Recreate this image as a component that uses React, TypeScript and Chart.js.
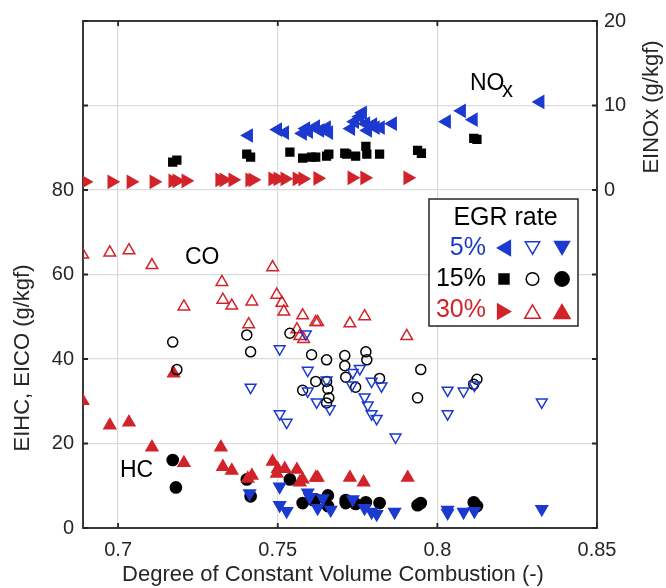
import React, { useEffect, useRef } from 'react';
import { Chart, registerables } from 'chart.js';
import { drawPoint } from 'chart.js/helpers';

Chart.register(...registerables);

const BLUE = '#1c3acf';
const RED = '#d2232a';
const BLACK = '#000000';
const AXIS = '#262626';
const GRID = '#dcdcdc';
const FONT = '"Liberation Sans", Arial, Helvetica, sans-serif';

const xTicks = [0.7, 0.75, 0.8, 0.85];
const yLeftTicks = [0, 20, 40, 60, 80, 100, 120];
const yLeftLabels = [0, 20, 40, 60, 80];
const yRightTicks = [-40, -30, -20, -10, 0, 10, 20];
const yRightLabels = [0, 10, 20];

// EINOx (right axis), [DCVC, g/kgf]
const noxEgr5: [number, number][] = [
  [0.7409, 6.45], [0.75, 7.15], [0.7522, 6.8], [0.7578, 6.69], [0.7588, 7.27], [0.7597, 6.92],
  [0.7619, 7.5], [0.7632, 7.04], [0.7653, 7.39], [0.766, 6.8], [0.7729, 7.27], [0.7741, 8.09],
  [0.7757, 8.67], [0.7766, 9.14], [0.7776, 7.85], [0.7782, 7.04], [0.7798, 7.74], [0.7806, 7.39],
  [0.7822, 7.39], [0.786, 7.85], [0.8029, 8.09], [0.8076, 9.37], [0.8113, 8.32], [0.8322, 10.42],
];
const noxEgr15: [number, number][] = [
  [0.7171, 3.3], [0.7184, 3.54], [0.7403, 4.24], [0.7415, 3.89], [0.7538, 4.47], [0.7578, 3.77],
  [0.7606, 3.89], [0.7619, 3.89], [0.7653, 4.0], [0.766, 4.24], [0.771, 4.35], [0.7716, 4.24],
  [0.7744, 4.0], [0.7776, 5.17], [0.7779, 4.24], [0.7819, 4.24], [0.7938, 4.7], [0.795, 4.35],
  [0.8114, 6.1], [0.8124, 5.99],
];
const noxEgr30: [number, number][] = [
  [0.6896, 0.97], [0.698, 0.97], [0.704, 0.97], [0.7112, 0.97], [0.7171, 1.09], [0.7184, 1.09],
  [0.7212, 1.09], [0.7318, 1.2], [0.7331, 1.2], [0.7359, 1.2], [0.7412, 1.2], [0.7422, 1.2],
  [0.7484, 1.32], [0.75, 1.32], [0.7522, 1.32], [0.756, 1.32], [0.7578, 1.32], [0.7625, 1.38],
  [0.7732, 1.44], [0.7772, 1.44], [0.7907, 1.44],
];

// EICO (left axis)
const coEgr5: [number, number][] = [
  [0.7415, 33.3], [0.7506, 42.4], [0.7588, 45.9], [0.7594, 37.3], [0.7594, 32.4], [0.7622, 29.8],
  [0.7653, 35.0], [0.7663, 28.2], [0.7506, 27.0], [0.7528, 25.0], [0.7732, 33.8], [0.7735, 36.8],
  [0.7757, 37.7], [0.7772, 31.0], [0.7782, 29.1], [0.7794, 34.7], [0.7794, 27.0], [0.781, 25.9],
  [0.7825, 33.6], [0.7869, 21.5], [0.8032, 32.6], [0.8032, 27.0], [0.8082, 32.4], [0.8116, 33.8],
  [0.8327, 29.8],
];
const coEgr15: [number, number][] = [
  [0.7171, 44.0], [0.7184, 37.5], [0.7403, 45.7], [0.7415, 41.7], [0.7538, 46.1], [0.7578, 32.6],
  [0.7606, 41.0], [0.7619, 34.7], [0.7653, 39.8], [0.7653, 34.7], [0.7657, 32.9], [0.766, 30.8],
  [0.7653, 29.6], [0.771, 40.8], [0.771, 38.4], [0.7713, 35.7], [0.7744, 33.3], [0.7776, 41.7],
  [0.7779, 39.8], [0.7819, 35.4], [0.7938, 30.8], [0.7948, 37.5], [0.8114, 34.0], [0.8124, 35.2],
];
const coEgr30: [number, number][] = [
  [0.6889, 64.7], [0.6974, 65.2], [0.7034, 65.7], [0.7106, 62.2], [0.7206, 52.4], [0.7325, 58.2],
  [0.7328, 54.0], [0.7356, 52.6], [0.7419, 53.6], [0.7409, 48.2], [0.7484, 61.7], [0.7497, 55.2],
  [0.7513, 53.3], [0.7519, 51.2], [0.7578, 50.3], [0.756, 47.0], [0.7569, 45.4], [0.7581, 44.7],
  [0.7619, 48.7], [0.7625, 48.7], [0.7726, 48.4], [0.7772, 50.1], [0.7904, 45.4],
];

// EIHC (left axis)
const hcEgr5: [number, number][] = [
  [0.7412, 8.2], [0.7506, 9.8], [0.7506, 5.4], [0.7528, 4.0], [0.7594, 8.4], [0.76, 7.3],
  [0.7625, 4.7], [0.7641, 7.0], [0.7666, 4.3], [0.7735, 6.8], [0.7772, 4.7], [0.7794, 3.8],
  [0.781, 3.3], [0.7866, 3.8], [0.8032, 4.3], [0.8032, 3.6], [0.8082, 3.8], [0.8116, 4.0],
  [0.8327, 4.5],
];
const hcEgr15: [number, number][] = [
  [0.7171, 16.1], [0.7181, 9.6], [0.7403, 11.5], [0.7415, 7.5], [0.7538, 11.5], [0.7578, 5.9],
  [0.761, 6.6], [0.7619, 6.8], [0.7657, 7.7], [0.7657, 5.2], [0.7713, 6.6], [0.7713, 5.9],
  [0.7744, 5.7], [0.7776, 6.1], [0.7819, 5.9], [0.7938, 5.4], [0.7948, 5.9], [0.8114, 6.1],
  [0.8124, 5.2],
];
const hcEgr30: [number, number][] = [
  [0.6889, 30.1], [0.6974, 24.3], [0.7034, 25.0], [0.7106, 19.1], [0.7174, 36.6], [0.7206, 15.4],
  [0.7322, 19.1], [0.7328, 14.5], [0.7356, 13.6], [0.7406, 11.7], [0.7419, 12.4], [0.7484, 15.7],
  [0.7497, 12.9], [0.75, 14.0], [0.7522, 14.0], [0.756, 13.8], [0.7569, 10.8], [0.7578, 11.5],
  [0.7619, 11.9], [0.7625, 11.9], [0.7726, 11.9], [0.7769, 10.8], [0.7907, 11.9],
];

type Spec = {
  data: [number, number][];
  axis: 'y' | 'y2';
  color: string;
  style: string;
  rot: number;
  r: number;
  open?: boolean;
};

const specs: Spec[] = [
  { data: noxEgr5, axis: 'y2', color: BLUE, style: 'triangle', rot: -90, r: 7 },
  { data: noxEgr15, axis: 'y2', color: BLACK, style: 'rect', rot: 0, r: 5.5 },
  { data: noxEgr30, axis: 'y2', color: RED, style: 'triangle', rot: 90, r: 7 },
  { data: coEgr5, axis: 'y', color: BLUE, style: 'triangle', rot: 180, r: 6.2, open: true },
  { data: coEgr15, axis: 'y', color: BLACK, style: 'circle', rot: 0, r: 5, open: true },
  { data: coEgr30, axis: 'y', color: RED, style: 'triangle', rot: 0, r: 6.7, open: true },
  { data: hcEgr5, axis: 'y', color: BLUE, style: 'triangle', rot: 180, r: 6.7 },
  { data: hcEgr30, axis: 'y', color: RED, style: 'triangle', rot: 0, r: 6.8 },
  { data: hcEgr15, axis: 'y', color: BLACK, style: 'circle', rot: 0, r: 5.6 },
];

function marker(ctx: CanvasRenderingContext2D, x: number, y: number, color: string, style: string, rot: number, r: number, open?: boolean) {
  ctx.save();
  ctx.fillStyle = open ? 'rgba(0,0,0,0)' : color;
  ctx.strokeStyle = color;
  ctx.lineWidth = 1.5;
  drawPoint(ctx, { pointStyle: style as any, radius: r, rotation: rot, borderWidth: 1.5 } as any, x, y);
  ctx.restore();
}

const overlayPlugin = {
  id: 'overlay',
  beforeDatasetsDraw(chart: any) {
    const { ctx, chartArea: a, scales } = chart;
    ctx.save();
    ctx.strokeStyle = AXIS;
    ctx.lineWidth = 1.8;
    ctx.strokeRect(a.left, a.top, a.right - a.left, a.bottom - a.top);
    const tl = 5;
    ctx.beginPath();
    xTicks.forEach((v) => {
      const px = scales.x.getPixelForValue(v);
      ctx.moveTo(px, a.bottom);
      ctx.lineTo(px, a.bottom - tl);
      ctx.moveTo(px, a.top);
      ctx.lineTo(px, a.top + tl);
    });
    yLeftTicks.forEach((v) => {
      const py = scales.y.getPixelForValue(v);
      ctx.moveTo(a.left, py);
      ctx.lineTo(a.left + tl, py);
    });
    yRightTicks.forEach((v) => {
      const py = scales.y2.getPixelForValue(v);
      ctx.moveTo(a.right, py);
      ctx.lineTo(a.right - tl, py);
    });
    ctx.stroke();
    ctx.restore();
  },
  afterDatasetsDraw(chart: any) {
    const { ctx } = chart;
    ctx.save();
    ctx.fillStyle = AXIS;
    ctx.font = `22px ${FONT}`;
    ctx.textAlign = 'center';
    ctx.textBaseline = 'middle';
    ctx.fillText('Degree of Constant Volume Combustion (-)', 333, 575);
    ctx.save();
    ctx.translate(23, 358);
    ctx.rotate(-Math.PI / 2);
    ctx.fillText('EIHC, EICO (g/kgf)', 0, 0);
    ctx.restore();
    ctx.save();
    ctx.translate(652, 107);
    ctx.rotate(-Math.PI / 2);
    ctx.fillText('EINOx (g/kgf)', 0, 0);
    ctx.restore();

    // species annotations
    ctx.fillStyle = BLACK;
    ctx.textAlign = 'left';
    ctx.textBaseline = 'alphabetic';
    ctx.font = `23px ${FONT}`;
    ctx.fillText('CO', 185, 264);
    ctx.fillText('HC', 120, 477);
    ctx.fillText('NO', 470, 90);
    ctx.font = `22px ${FONT}`;
    ctx.fillText('x', 502, 97);

    // legend
    const bx = 429, by = 199, bw = 149, bh = 127;
    ctx.fillStyle = '#ffffff';
    ctx.fillRect(bx, by, bw, bh);
    ctx.strokeStyle = AXIS;
    ctx.lineWidth = 1.5;
    ctx.strokeRect(bx, by, bw, bh);
    ctx.font = `25px ${FONT}`;
    ctx.fillStyle = BLACK;
    ctx.textAlign = 'center';
    ctx.fillText('EGR rate', 505.5, 225);
    ctx.textAlign = 'right';
    const rows = [
      { label: '5%', color: BLUE, base: 255, cy: 248, m: [['triangle', -90, 8.5, false], ['triangle', 180, 8.3, true], ['triangle', 180, 8.6, false]] },
      { label: '15%', color: BLACK, base: 286, cy: 279, m: [['rect', 0, 7, false], ['circle', 0, 6.3, true], ['circle', 0, 7.2, false]] },
      { label: '30%', color: RED, base: 317, cy: 311.5, m: [['triangle', 90, 8.5, false], ['triangle', 0, 9, true], ['triangle', 0, 9.3, false]] },
    ];
    const cols = [504, 532.5, 562];
    rows.forEach((row) => {
      ctx.fillStyle = row.color;
      ctx.fillText(row.label, 486, row.base);
      row.m.forEach((mm: any, i: number) => {
        let dy = 0;
        if (mm[0] === 'triangle' && mm[1] === 0) dy = mm[2] * 0.25;
        if (mm[0] === 'triangle' && mm[1] === 180) dy = -mm[2] * 0.25;
        let dx = 0;
        if (mm[0] === 'triangle' && mm[1] === -90) dx = mm[2] * 0.25;
        if (mm[0] === 'triangle' && mm[1] === 90) dx = -mm[2] * 0.25;
        marker(ctx, cols[i] + dx, row.cy + dy, row.color, mm[0], mm[1], mm[2], mm[3]);
      });
    });
    ctx.restore();
  },
};

export default function App() {
  const ref = useRef<HTMLCanvasElement | null>(null);
  useEffect(() => {
    if (!ref.current) return;
    const datasets = specs.map((s) => ({
      data: s.data.map(([x, y]) => ({ x, y })),
      yAxisID: s.axis,
      pointStyle: s.style as any,
      pointRotation: s.rot,
      pointRadius: s.r,
      pointHoverRadius: s.r,
      pointBorderWidth: 1.5,
      borderColor: s.color,
      pointBorderColor: s.color,
      backgroundColor: s.open ? 'rgba(0,0,0,0)' : s.color,
      pointBackgroundColor: s.open ? 'rgba(0,0,0,0)' : s.color,
      showLine: false,
    }));
    const tickFont = { family: FONT, size: 20 };
    const chart = new Chart(ref.current, {
      type: 'scatter',
      data: { datasets },
      plugins: [overlayPlugin],
      options: {
        animation: false,
        responsive: true,
        maintainAspectRatio: false,
        layout: { padding: { top: 13, left: 0, right: 0, bottom: 0 } },
        plugins: { legend: { display: false }, tooltip: { enabled: false } },
        scales: {
          x: {
            type: 'linear',
            position: 'bottom',
            min: 0.689,
            max: 0.85,
            afterBuildTicks: (s: any) => { s.ticks = xTicks.map((v) => ({ value: v })); },
            afterFit: (s: any) => { s.height = 60; },
            grid: { color: GRID, lineWidth: 1.3, drawTicks: false },
            border: { display: false },
            ticks: {
              padding: 10,
              color: AXIS,
              font: tickFont,
              maxRotation: 0,
              autoSkip: false,
              callback: (v: any) => String(v),
            },
          },
          y: {
            type: 'linear',
            position: 'left',
            min: 0,
            max: 120,
            afterBuildTicks: (s: any) => { s.ticks = yLeftTicks.map((v) => ({ value: v })); },
            afterFit: (s: any) => { s.width = 83; },
            grid: { color: GRID, lineWidth: 1.3, drawTicks: false },
            border: { display: false },
            ticks: {
              padding: 9,
              color: AXIS,
              font: tickFont,
              autoSkip: false,
              callback: (v: any) => (yLeftLabels.includes(v) ? String(v) : ''),
            },
          },
          y2: {
            type: 'linear',
            position: 'right',
            min: -40,
            max: 20,
            afterBuildTicks: (s: any) => { s.ticks = yRightTicks.map((v) => ({ value: v })); },
            afterFit: (s: any) => { s.width = 69; },
            grid: { display: false, drawTicks: false },
            border: { display: false },
            ticks: {
              padding: 7,
              color: AXIS,
              font: tickFont,
              autoSkip: false,
              callback: (v: any) => (yRightLabels.includes(v) ? String(v) : ''),
            },
          },
        },
      } as any,
    });
    return () => chart.destroy();
  }, []);
  return (
    <div style={{ position: 'absolute', left: 0, top: 0, width: 666, height: 588 }}>
      <canvas ref={ref} />
    </div>
  );
}
